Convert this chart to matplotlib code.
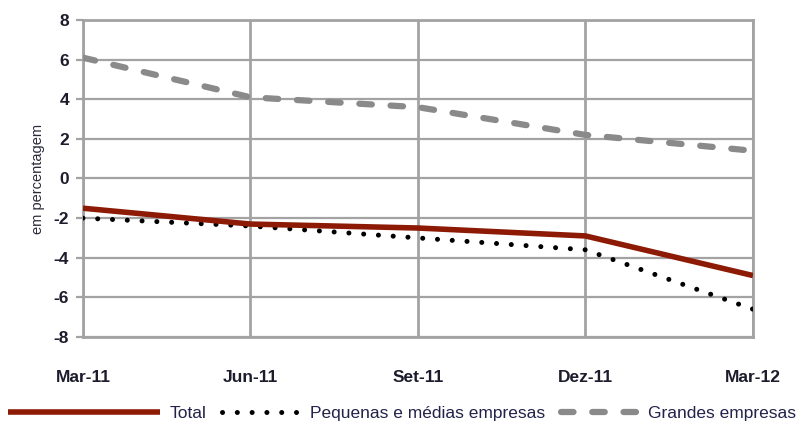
import matplotlib
matplotlib.use('Agg')
import matplotlib.pyplot as plt
from matplotlib.legend_handler import HandlerLine2D

plt.rcParams['font.family'] = ['Liberation Sans', 'DejaVu Sans']
plt.rcParams['axes.unicode_minus'] = False

quarters = ['Mar-11', 'Jun-11', 'Set-11', 'Dez-11', 'Mar-12']
total = [-1.5, -2.3, -2.5, -2.9, -4.9]
pme = [-2.0, -2.4, -3.0, -3.6, -6.6]
grandes = [6.1, 4.1, 3.6, 2.2, 1.4]
yticks = [-8, -6, -4, -2, 0, 2, 4, 6, 8]

grid_col = '#a3a3a3'
text_col = '#1c1c2c'


class LongLineHandler(HandlerLine2D):
    # stretch the Total handle further to the left
    def create_artists(self, legend, orig_handle, xdescent, ydescent,
                       width, height, fontsize, trans):
        return super().create_artists(legend, orig_handle, xdescent + width * 0.95,
                                      ydescent, width * 1.95, height, fontsize, trans)


fig = plt.figure(figsize=(8.05, 4.26), dpi=100)
ax = fig.add_axes([0.103, 0.209, 0.8324, 0.744])

x = range(len(quarters))
g_line, = ax.plot(x, grandes, color='#8a8a8a', lw=4.5, dashes=(2.0, 3.0),
                  dash_capstyle='round', label='Grandes empresas', zorder=3)
p_line, = ax.plot(x, pme, color='black', lw=3.6, dashes=(0.01, 2.95),
                  dash_capstyle='round', label='Pequenas e médias empresas', zorder=4)
t_line, = ax.plot(x, total, color='#8c1a05', lw=4.0, solid_capstyle='butt',
                  label='Total', zorder=5)

ax.set_xlim(0, len(quarters) - 1)
ax.set_ylim(-8, 8)
ax.set_xticks(list(x))
ax.set_xticklabels(quarters)
ax.set_yticks(yticks)

ax.grid(True, color=grid_col, lw=1.6)
ax.xaxis.grid(True, lw=2.0)
ax.set_axisbelow(True)
for s in ax.spines.values():
    s.set_color(grid_col)
    s.set_linewidth(2.0)

ax.tick_params(axis='y', length=5, width=1.6, color=grid_col, pad=5,
               labelsize=12.5, labelcolor=text_col)
ax.tick_params(axis='x', length=0, pad=24, labelsize=12.5, labelcolor=text_col)
for lbl in ax.get_xticklabels() + ax.get_yticklabels():
    lbl.set_fontweight('bold')

ax.set_ylabel('em percentagem', fontsize=10.5, color='#2a2a3a', labelpad=6)

leg = fig.legend([t_line, p_line, g_line],
                 ['Total', 'Pequenas e médias empresas', 'Grandes empresas'],
                 handler_map={t_line: LongLineHandler()},
                 loc='center left', bbox_to_anchor=(82 / 805, 1 - 413 / 426),
                 ncol=3, frameon=False, fontsize=12.5, handlelength=4.5,
                 handletextpad=0.55, columnspacing=0.9, borderpad=0,
                 borderaxespad=0)
for t in leg.get_texts():
    t.set_color('#22224a')

fig.savefig('out.png', dpi=100)
